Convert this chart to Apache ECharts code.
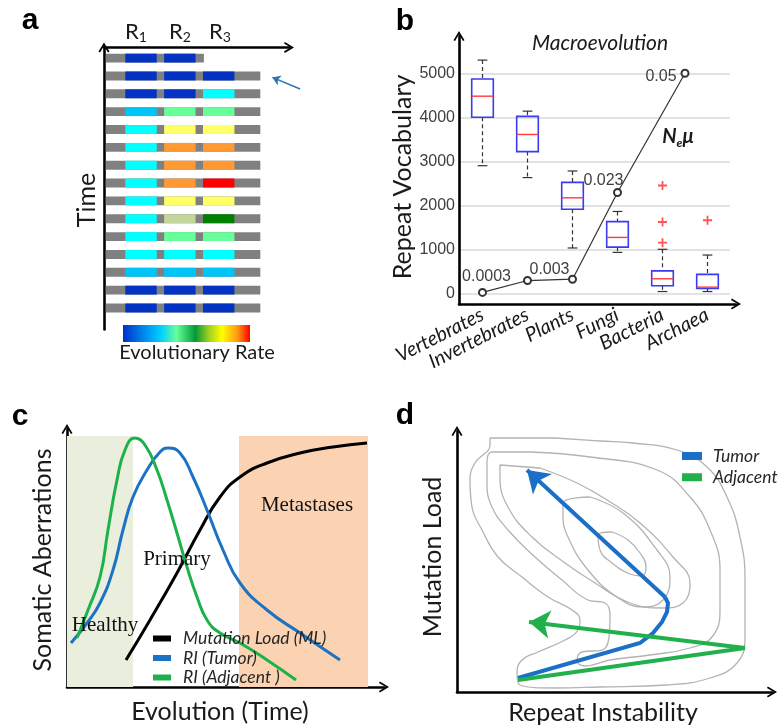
<!DOCTYPE html>
<html>
<head>
<meta charset="utf-8">
<script src="https://cdn.jsdelivr.net/npm/echarts@6/dist/echarts.min.js"></script>
<style>
html, body { margin: 0; padding: 0; background: #fff; }
#main { width: 778px; height: 728px; }
</style>
</head>
<body>
<div id="main"></div>
<script>
// ---- a: repeat regions R1..R3 along the genome, rate class per generation (rows = time)
var regionNames = ['1', '2', '3'];
var regionSpans = [[1.15, 2.85], [3.25, 4.95], [5.35, 7.05]];
var rowEnds = [5.4, 8.45, 8.45, 8.45, 8.45, 8.45, 8.45, 8.45, 8.45, 8.45, 8.45, 8.45, 8.45, 8.45, 8.45];
var rowRates = [
    ['B', 'B', ''],
    ['B', 'B', 'B'],
    ['B', 'B', 'C'],
    ['S', 'G', 'G'],
    ['C', 'Y', 'Y'],
    ['C', 'O', 'O'],
    ['C', 'O', 'O'],
    ['C', 'O', 'R'],
    ['C', 'Y', 'Y'],
    ['C', 'P', 'D'],
    ['C', 'G', 'G'],
    ['C', 'C', 'C'],
    ['S', 'S', 'S'],
    ['B', 'B', 'B'],
    ['B', 'B', 'B']
];
var pointerFrom = [10.6, 1.73];
var pointerTo = [9.1, 1.08];

// ---- b: repeat vocabulary per taxon
var taxa = ['Vertebrates', 'Invertebrates', 'Plants', 'Fungi', 'Bacteria', 'Archaea'];
var vocabMin = [2900, 2630, 1030, 930, 40, 40];
var vocabQ1 = [4000, 3220, 1910, 1050, 170, 110];
var vocabMedian = [4480, 3610, 2170, 1270, 330, 140];
var vocabQ3 = [4870, 4020, 2520, 1630, 510, 430];
var vocabMax = [5300, 4140, 2780, 1860, 1000, 870];
var vocabOutliers = [[4, 2450], [4, 1620], [4, 1150], [5, 1660]];
var neMuX = [0, 1, 2, 3, 4.5];
var neMuY = [20, 290, 320, 2290, 5000];
var neMuText = ['0.0003', '', '0.003', '0.023', '0.05'];
var vocabTicks = [0, 5000, 1000];

// ---- c: schematic curves over evolution time
var mlCurve = [[59, 27], [83, 67], [110, 114], [133, 157], [153, 190], [173, 210], [200, 224], [233, 234], [266, 240], [300, 244]];
var tumorCurve = [[4, 44], [20, 64], [33, 84], [46, 117], [56, 157], [66, 190], [80, 217], [93, 235], [101, 239], [113, 234],
    [126, 210], [140, 177], [156, 137], [173, 104], [200, 77], [233, 54], [273, 27]];
var adjacentCurve = [[10, 49], [21, 77], [33, 110], [41, 157], [50, 207], [58, 237], [68, 249], [78, 242], [90, 217],
    [100, 187], [110, 154], [120, 120], [130, 90], [140, 67], [153, 54], [173, 44], [200, 27], [229, 7]];
var healthySpan = [0, 66];
var metastasesSpan = [172, 301];
var stageTop = 251;

// ---- d: density contours and trajectories
var contours = [
    [[98, 254], [143, 251], [176, 249], [220, 242], [250, 225], [270, 195], [283, 155], [288, 112], [288, 55], [280, 29],
        [253, 14], [210, 7], [143, 5], [98, 4], [63, 7], [60, 19], [65, 32], [81, 40], [108, 52], [121, 62], [123, 72],
        [115, 82], [91, 95], [65, 115], [41, 135], [25, 162], [15, 185], [13, 212], [18, 229], [33, 247], [33, 254]],
    [[73, 240], [133, 235], [200, 222], [233, 195], [253, 162], [263, 122], [263, 82], [255, 55], [233, 44], [193, 37],
        [153, 32], [128, 26], [120, 31], [125, 40], [145, 42], [152, 55], [153, 75], [148, 89], [131, 92], [105, 112],
        [78, 135], [51, 162], [35, 185], [30, 209], [30, 230], [35, 240]],
    [[83, 224], [120, 209], [150, 192], [183, 169], [216, 135], [233, 109], [226, 89], [206, 84], [173, 89], [138, 109],
        [108, 129], [75, 155], [51, 185], [43, 215], [43, 227]],
    [[133, 195], [166, 179], [200, 142], [213, 115], [206, 92], [186, 85], [160, 95], [131, 122], [111, 155], [106, 177], [106, 189]],
    [[155, 160], [171, 152], [183, 139], [189, 125], [185, 116], [173, 118], [155, 129], [143, 142], [141, 157]]
];
var tumorPath = [[61, 14], [183, 49], [196, 59], [205, 70], [210, 80], [211, 89], [208, 95], [70, 222]];
var adjacentPath = [[61, 12], [288, 44], [72, 70]];

// ---------------------------------------------------------------
var chart = echarts.init(document.getElementById('main'));

var rateColors = {
    B: '#0433c4', S: '#00c6f8', C: '#00ffff', G: '#66ff99', Y: '#ffff66',
    O: '#ff9933', R: '#ff0000', P: '#c3d69b', D: '#008000'
};
var backboneColor = '#808080';
var arrowHead = 'path://M0,10L6,0L12,10L10.3,10.9L6,3.6L1.7,10.9Z';
var sans = 'Lato';
var ink = '#1a1a1a';

var cells = [], cellColors = [];
rowRates.forEach(function (rates, row) {
    cells.push([row, 0.1, rowEnds[row]]);
    cellColors.push(backboneColor);
    rates.forEach(function (r, j) {
        if (!r) return;
        cells.push([row, regionSpans[j][0], regionSpans[j][1]]);
        cellColors.push(rateColors[r]);
    });
});

var boxes = taxa.map(function (t, i) {
    return [i, vocabMin[i], vocabQ1[i], vocabMedian[i], vocabQ3[i], vocabMax[i]];
});

var neMuOffsets = [[4, -16], [0, 0], [-23, -10], [-14, -12], [-24, 3]];
var neMuData = neMuX.map(function (x, i) {
    return { value: [x, neMuY[i]], label: { offset: neMuOffsets[i] } };
});

function arrowAxis(extra) {
    return Object.assign({
        type: 'value',
        axisLine: {
            onZero: false,
            symbol: ['none', arrowHead],
            symbolSize: [14, 10],
            lineStyle: { color: '#000', width: 2.6 }
        },
        axisTick: { show: false },
        axisLabel: { show: false },
        splitLine: { show: false }
    }, extra);
}

function renderCell(params, api) {
    var p0 = api.coord([api.value(1), api.value(0)]);
    var p1 = api.coord([api.value(2), api.value(0)]);
    var h = api.size([0, 1])[1] * 0.5;
    return {
        type: 'rect',
        shape: { x: p0[0], y: p0[1] - h / 2, width: p1[0] - p0[0], height: h },
        style: { fill: cellColors[params.dataIndex] }
    };
}

function renderBox(params, api) {
    var i = api.value(0);
    var lo = api.coord([i, api.value(1)]);
    var q1 = api.coord([i, api.value(2)]);
    var md = api.coord([i, api.value(3)]);
    var q3 = api.coord([i, api.value(4)]);
    var hi = api.coord([i, api.value(5)]);
    var bw = api.size([1, 0])[0] * 0.48;
    var cw = bw * 0.45;
    var cx = lo[0];
    var dash = { stroke: '#333', lineWidth: 1.2, lineDash: [4, 3] };
    var cap = { stroke: '#333', lineWidth: 1.2 };
    return {
        type: 'group',
        children: [
            { type: 'line', shape: { x1: cx, y1: hi[1], x2: cx, y2: q3[1] }, style: dash },
            { type: 'line', shape: { x1: cx, y1: q1[1], x2: cx, y2: lo[1] }, style: dash },
            { type: 'line', shape: { x1: cx - cw / 2, y1: hi[1], x2: cx + cw / 2, y2: hi[1] }, style: cap },
            { type: 'line', shape: { x1: cx - cw / 2, y1: lo[1], x2: cx + cw / 2, y2: lo[1] }, style: cap },
            { type: 'rect', shape: { x: cx - bw / 2, y: q3[1], width: bw, height: q1[1] - q3[1] },
                style: { fill: 'none', stroke: '#3b3bf2', lineWidth: 1.6 } },
            { type: 'line', shape: { x1: cx - bw / 2, y1: md[1], x2: cx + bw / 2, y2: md[1] },
                style: { stroke: '#ff3b3b', lineWidth: 1.4 } }
        ]
    };
}

function label(text, x, y, opts) {
    var style = Object.assign({
        text: text,
        fontFamily: sans,
        fontSize: 25,
        fill: ink,
        align: 'center',
        verticalAlign: 'middle',
        textAlign: 'center',
        textVerticalAlign: 'middle'
    }, opts || {});
    var el = { type: 'text', x: x, y: y, z: 100, style: style, silent: true };
    if (style.rotation) { el.rotation = style.rotation; delete style.rotation; }
    return el;
}

var letter = { fontFamily: 'Liberation Sans', fontWeight: 'bold', fontSize: 30, fill: '#000' };
var serif = { fontFamily: 'Liberation Serif', fontSize: 21, fill: '#111' };
var subRich = {
    r: { fontFamily: sans, fontSize: 22, fill: ink, lineHeight: 24 },
    s: { fontFamily: sans, fontSize: 14, fill: ink, verticalAlign: 'bottom', lineHeight: 24 }
};

var graphics = [
    label('a', 30, 21, letter),
    label('b', 405, 22, letter),
    label('c', 20, 417, letter),
    label('d', 405, 416, letter),
    label('Time', 87, 200, { fontSize: 25, rotation: Math.PI / 2 }),
    label('Evolutionary Rate', 197, 353, { fontSize: 20 }),
    {
        type: 'rect', silent: true, z: 100,
        shape: { x: 123, y: 325, width: 127, height: 17 },
        style: {
            fill: new echarts.graphic.LinearGradient(0, 0, 1, 0, [
                { offset: 0, color: '#0030c8' },
                { offset: 0.18, color: '#0090f0' },
                { offset: 0.3, color: '#00d0ff' },
                { offset: 0.42, color: '#66ff99' },
                { offset: 0.57, color: '#009a3a' },
                { offset: 0.67, color: '#9acd20' },
                { offset: 0.78, color: '#ffff00' },
                { offset: 0.9, color: '#ff9a10' },
                { offset: 1, color: '#ff0000' }
            ])
        }
    },
    label('Macroevolution', 600, 43, { fontSize: 21, fontStyle: 'italic' }),
    label('{n|N}{e|e}{n|\u03bc}', 678, 137, {
        rich: {
            n: { fontFamily: sans, fontSize: 20, fontWeight: 'bold', fontStyle: 'italic', fill: ink, lineHeight: 24 },
            e: { fontFamily: sans, fontSize: 12, fontWeight: 'bold', fontStyle: 'italic', fill: ink, verticalAlign: 'bottom', lineHeight: 24 }
        }
    }),
    label('Repeat Vocabulary', 403, 177, { rotation: Math.PI / 2 }),
    label('Healthy', 105, 625, serif),
    label('Primary', 177, 559, serif),
    label('Metastases', 307, 505, serif),
    label('Somatic Aberrations', 43, 560, { rotation: Math.PI / 2 }),
    label('Evolution (Time)', 220, 712),
    label('Mutation Load', 433, 557, { rotation: Math.PI / 2 }),
    label('Repeat Instability', 603, 713)
];
[136, 180, 220].forEach(function (x, j) {
    graphics.push(label('{r|R}{s|' + regionNames[j] + '}', x, 32, { rich: subRich }));
});

var series = [];

// a
series.push({
    type: 'custom', xAxisIndex: 0, yAxisIndex: 0,
    renderItem: renderCell, encode: { x: [1, 2], y: 0 }, data: cells, silent: true
});
series.push({
    type: 'lines', coordinateSystem: 'cartesian2d', xAxisIndex: 0, yAxisIndex: 0, clip: false,
    symbol: ['none', 'arrow'], symbolSize: 8, silent: true,
    lineStyle: { color: '#2e75b6', width: 1.6, opacity: 1 },
    data: [{ coords: [pointerFrom, pointerTo] }]
});

// b
series.push({
    type: 'custom', xAxisIndex: 2, yAxisIndex: 2,
    renderItem: renderBox, encode: { x: 0, y: [1, 2, 3, 4, 5] }, data: boxes, silent: true, z: 3
});
series.push({
    type: 'scatter', xAxisIndex: 2, yAxisIndex: 2, silent: true,
    symbol: 'path://M4,0H6V4H10V6H6V10H4V6H0V4H4Z', symbolSize: 9,
    itemStyle: { color: '#ff2b2b' }, data: vocabOutliers, z: 3
});
series.push({
    type: 'line', xAxisIndex: 3, yAxisIndex: 2, silent: true, clip: false,
    symbol: 'emptyCircle', symbolSize: 7,
    itemStyle: { color: '#333', borderWidth: 1 },
    lineStyle: { color: '#333', width: 1.2 },
    label: {
        show: true, position: 'inside',
        formatter: function (p) { return neMuText[p.dataIndex]; },
        fontFamily: 'Liberation Sans', fontSize: 16, color: '#404040'
    },
    data: neMuData, z: 4
});

// c
series.push({
    type: 'line', xAxisIndex: 4, yAxisIndex: 3, data: [], silent: true, z: 1,
    markArea: {
        silent: true,
        data: [
            [{ xAxis: healthySpan[0], yAxis: 0, itemStyle: { color: '#e9eedd', opacity: 1 } }, { xAxis: healthySpan[1], yAxis: stageTop }],
            [{ xAxis: metastasesSpan[0], yAxis: 0, itemStyle: { color: '#fbd3b2', opacity: 1 } }, { xAxis: metastasesSpan[1], yAxis: stageTop }]
        ]
    }
});
[
    ['Mutation Load (ML)', mlCurve, '#000000'],
    ['RI (Tumor)', tumorCurve, '#1c73c4'],
    ['RI (Adjacent )', adjacentCurve, '#1db14b']
].forEach(function (s) {
    series.push({
        name: s[0], type: 'line', xAxisIndex: 4, yAxisIndex: 3, data: s[1],
        smooth: 0.5, symbol: 'none', silent: true, color: s[2],
        lineStyle: { color: s[2], width: 3 }, z: 3
    });
});

// d
contours.forEach(function (c, i) {
    series.push({
        name: 'contour' + i, type: 'line', xAxisIndex: 5, yAxisIndex: 4,
        data: c.concat([c[0]]), smooth: 0.45, symbol: 'none', silent: true,
        lineStyle: { color: '#b3b3b3', width: 1.3 }, z: 2
    });
});
[
    ['Tumor', tumorPath, '#1c6fc6'],
    ['Adjacent', adjacentPath, '#21b04b']
].forEach(function (s) {
    var pts = s[1];
    // body of the trajectory
    series.push({
        name: s[0], type: 'lines', coordinateSystem: 'cartesian2d', polyline: true,
        xAxisIndex: 5, yAxisIndex: 4, clip: false, silent: true, color: s[2],
        lineStyle: { color: s[2], width: 4, opacity: 1 },
        data: [{ coords: pts.slice(0, -1) }], z: 4
    });
    // last leg with the arrow head
    series.push({
        name: s[0], type: 'lines', coordinateSystem: 'cartesian2d',
        xAxisIndex: 5, yAxisIndex: 4, clip: false, silent: true, color: s[2],
        symbol: ['none', 'arrow'], symbolSize: 21,
        lineStyle: { color: s[2], width: 4, opacity: 1 },
        data: [{ coords: pts.slice(-2) }], z: 4
    });
});

var legendText = { fontFamily: sans, fontStyle: 'italic', fontSize: 17.5, color: '#262626', lineHeight: 17.5, padding: [0, 0, 0, 7] };

chart.setOption({
    animation: false,
    backgroundColor: '#fff',
    grid: [
        { left: 104, top: 47.4, width: 185, height: 282 },
        { left: 459, top: 36, width: 277, height: 268 },
        { left: 460, top: 73.3, width: 270, height: 220 },
        { left: 67, top: 429, width: 317, height: 258 },
        { left: 457, top: 431, width: 315, height: 261 }
    ],
    xAxis: [
        arrowAxis({ gridIndex: 0, min: 0, max: 10, position: 'top' }),
        arrowAxis({ gridIndex: 1, min: 0, max: 1 }),
        {
            type: 'category', gridIndex: 2, data: taxa, offset: 11,
            axisLine: { show: false }, axisTick: { show: false },
            axisLabel: { interval: 0, rotate: 27, margin: 9, fontFamily: sans, fontStyle: 'italic', fontSize: 20, color: ink, hideOverlap: false }
        },
        { type: 'value', gridIndex: 2, min: -0.5, max: 5.5, show: false },
        arrowAxis({ gridIndex: 3, min: 0, max: 317 }),
        arrowAxis({ gridIndex: 4, min: 0, max: 315 })
    ],
    yAxis: [
        arrowAxis({ gridIndex: 0, min: -0.6, max: 15.2, inverse: true }),
        arrowAxis({ gridIndex: 1, min: 0, max: 1 }),
        {
            type: 'value', gridIndex: 2, min: vocabTicks[0], max: vocabTicks[1], interval: vocabTicks[2],
            axisLine: { show: false }, axisTick: { show: false },
            axisLabel: { margin: 5, fontFamily: 'Liberation Sans', fontSize: 16, color: '#404040',
                formatter: function (v) { return String(v); } },
            splitLine: { lineStyle: { color: '#dadada', width: 1.6 } }
        },
        arrowAxis({ gridIndex: 3, min: 0, max: 258 }),
        arrowAxis({ gridIndex: 4, min: 0, max: 261 })
    ],
    legend: [
        {
            orient: 'vertical', left: 148, top: 624.5, itemWidth: 18, itemHeight: 6, itemGap: 1.5,
            selectedMode: false, icon: 'rect', textStyle: legendText,
            data: [
                { name: 'Mutation Load (ML)', itemStyle: { color: '#000' } },
                { name: 'RI (Tumor)', itemStyle: { color: '#1c73c4' } },
                { name: 'RI (Adjacent )', itemStyle: { color: '#1db14b' } }
            ]
        },
        {
            orient: 'vertical', left: 677, top: 442, itemWidth: 18, itemHeight: 6, itemGap: 3.2,
            selectedMode: false, icon: 'rect', textStyle: legendText,
            data: [
                { name: 'Tumor', itemStyle: { color: '#1c6fc6' } },
                { name: 'Adjacent', itemStyle: { color: '#21b04b' } }
            ]
        }
    ],
    graphic: graphics,
    series: series
});
</script>
</body>
</html>
